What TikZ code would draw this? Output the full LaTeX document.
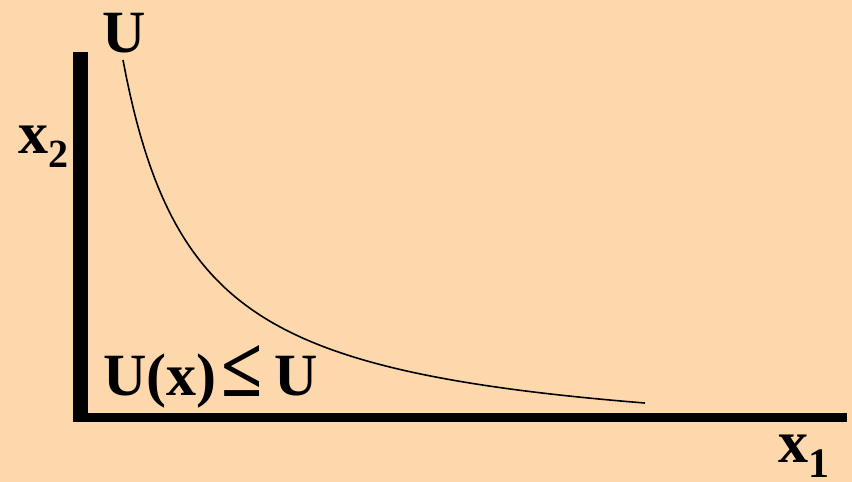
\documentclass[tikz,border=0pt]{standalone}
\usepackage{fontspec}
\usepackage{graphicx}
\setmainfont{Liberation Serif}
\newfontfamily\tnrb{Liberation Serif Bold}
\definecolor{peach}{RGB}{253,216,172}
\begin{document}
\begin{tikzpicture}[x=1pt,y=-1pt,
  lbl/.style={inner sep=0pt,anchor=base west,font=\tnrb\fontsize{60}{60}\selectfont},
  axisline/.style={line width=#1,line cap=butt},
  curve/.style={line width=1.6pt}]
\fill[peach] (0,0) rectangle (852,482);
\useasboundingbox (0,0) rectangle (852,482);
\coordinate (ytop) at (80.5,52);
\coordinate (ybot) at (80.5,422);
\coordinate (xl) at (73,417.5);
\coordinate (xr) at (847,417.5);
\draw[axisline=15pt] (ytop) -- (ybot);
\draw[axisline=9.5pt] (xl) -- (xr);
\draw[curve] plot[domain=123:645,samples=150] (\x,{451-285.41/((\x-50)/100)});
\node[lbl] (utop) at (102,52) {U};
\node[lbl] (ineq) at (103,395) {U(x)\kern5pt\raisebox{-1pt}{\scalebox{1.25}[1.4]{≤}}\kern12pt U};
\node[lbl] (x2) at (18,153) {x{\fontsize{40}{40}\selectfont\raisebox{-14pt}{2}}};
\node[lbl] (x1) at (778,462) {x{\fontsize{42}{42}\selectfont\raisebox{-15pt}{1}}};
\end{tikzpicture}
\end{document}
